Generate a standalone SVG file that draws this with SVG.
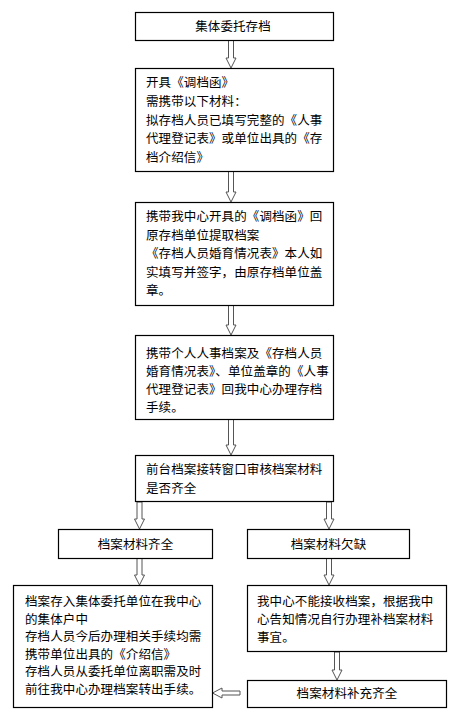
<svg xmlns="http://www.w3.org/2000/svg" width="461" height="719" viewBox="0 0 461 719">
<style>
.box{fill:#fff;stroke:#000;stroke-width:1.2}
.t{font-family:"Noto Sans CJK SC","Noto Sans",sans-serif;font-size:12.5px;fill:#000;letter-spacing:0.1px}
.c{text-anchor:middle}
.arr{fill:#fff;stroke:#555;stroke-width:1}
</style>
<rect width="461" height="719" fill="#fff"/>
<g id="connectors">
<path class="arr" d="M228.5,40 V58 H226 L231,68 L236,58 H233.5 V40 Z"/>
<path class="arr" d="M228.5,171 V192 H226 L231,202 L236,192 H233.5 V171 Z"/>
<path class="arr" d="M228.5,305 V325 H226 L231,335 L236,325 H233.5 V305 Z"/>
<path class="arr" d="M228.5,419 V445 H226 L231,455 L236,445 H233.5 V419 Z"/>
<path class="arr" d="M137,502 V519 H134.5 L139.5,529 L144.5,519 H142 V502 Z"/>
<path class="arr" d="M326.5,502 V519 H324 L329,529 L334,519 H331.5 V502 Z"/>
<path class="arr" d="M137,558 V575 H134.5 L139.5,585 L144.5,575 H142 V558 Z"/>
<path class="arr" d="M326.5,558 V575 H324 L329,585 L334,575 H331.5 V558 Z"/>
<path class="arr" d="M334.5,652 V670 H332 L337,680 L342,670 H339.5 V652 Z"/>
<path class="arr" d="M240,691 H222 V688 L212.5,693 L222,698 V695 H240 Z"/>
</g>
<g id="n1">
<rect class="box" x="135.5" y="12.5" width="198" height="28"/>
<text class="t c" x="233" y="31">集体委托存档</text>
</g>
<g id="n2">
<rect class="box" x="135.5" y="68.5" width="198" height="103"/>
<text class="t" x="146" y="87">开具《调档函》</text>
<text class="t" x="146" y="105.8">需携带以下材料：</text>
<text class="t" x="146" y="124.6">拟存档人员已填写完整的《人事</text>
<text class="t" x="146" y="143.4">代理登记表》或单位出具的《存</text>
<text class="t" x="146" y="162.2">档介绍信》</text>
</g>
<g id="n3">
<rect class="box" x="135.5" y="202.5" width="198" height="103"/>
<text class="t" x="146" y="221">携带我中心开具的《调档函》回</text>
<text class="t" x="146" y="239.6">原存档单位提取档案</text>
<text class="t" x="146" y="258.2">《存档人员婚育情况表》本人如</text>
<text class="t" x="146" y="276.8">实填写并签字，由原存档单位盖</text>
<text class="t" x="146" y="295.4">章。</text>
</g>
<g id="n4">
<rect class="box" x="135.5" y="335.5" width="198" height="84"/>
<text class="t" x="146" y="358">携带个人人事档案及《存档人员</text>
<text class="t" x="146" y="376">婚育情况表》、单位盖章的《人事</text>
<text class="t" x="146" y="394">代理登记表》回我中心办理存档</text>
<text class="t" x="146" y="412">手续。</text>
</g>
<g id="n5">
<rect class="box" x="135.5" y="455.5" width="198" height="46"/>
<text class="t" x="146" y="474">前台档案接转窗口审核档案材料</text>
<text class="t" x="146" y="492.5">是否齐全</text>
</g>
<g id="n6">
<rect class="box" x="58.5" y="529.5" width="154" height="29"/>
<text class="t c" x="135.5" y="548.5">档案材料齐全</text>
</g>
<g id="n7">
<rect class="box" x="247.5" y="529.5" width="162" height="29"/>
<text class="t c" x="328.5" y="548.5">档案材料欠缺</text>
</g>
<g id="n8">
<rect class="box" x="13.5" y="585.5" width="199" height="122"/>
<text class="t" x="25" y="606">档案存入集体委托单位在我中心</text>
<text class="t" x="25" y="623.5">的集体户中</text>
<text class="t" x="25" y="641">存档人员今后办理相关手续均需</text>
<text class="t" x="25" y="658.5">携带单位出具的《介绍信》</text>
<text class="t" x="25" y="676">存档人员从委托单位离职需及时</text>
<text class="t" x="25" y="693.5">前往我中心办理档案转出手续。</text>
</g>
<g id="n9">
<rect class="box" x="247.5" y="585.5" width="199" height="66"/>
<text class="t" x="257" y="606">我中心不能接收档案，根据我中</text>
<text class="t" x="257" y="624">心告知情况自行办理补档案材料</text>
<text class="t" x="257" y="642">事宜。</text>
</g>
<g id="n10">
<rect class="box" x="247.5" y="680.5" width="199" height="27"/>
<text class="t c" x="347" y="698">档案材料补充齐全</text>
</g>
</svg>
